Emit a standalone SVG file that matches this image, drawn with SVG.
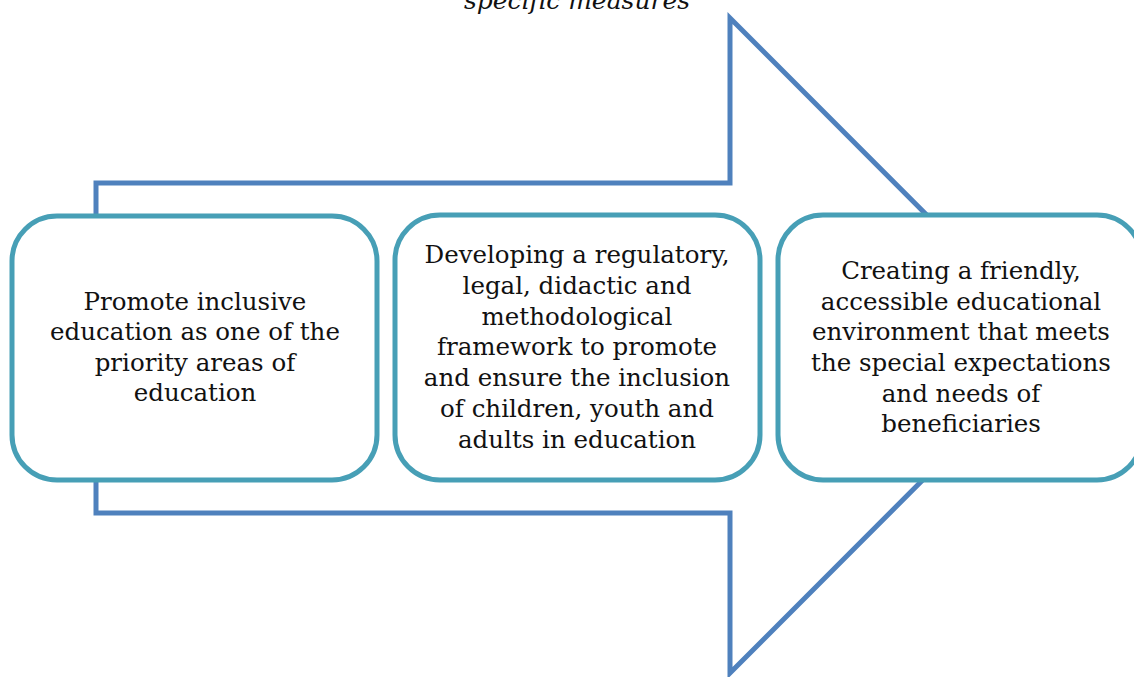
<svg xmlns="http://www.w3.org/2000/svg" width="1134" height="677" viewBox="0 0 1134 677">
<style>
.arrow{fill:none;stroke:#4F81BD;stroke-width:5;stroke-linejoin:miter}
.box{fill:#fff;stroke:#479FB6;stroke-width:5}
.t{font-family:"DejaVu Serif",serif;font-size:24.5px;fill:#111;text-anchor:middle}
.title{font-family:"DejaVu Serif",serif;font-style:italic;font-size:25px;fill:#111;text-anchor:middle}
</style>
<rect width="1134" height="677" fill="#fff"/>
<text class="title" x="577" y="9">specific measures</text>
<g id="connectors">
<polygon class="arrow" points="96,183 730,183 730,18 1057,345.5 730,673 730,513 96,513"/>
</g>
<g id="node1">
<rect class="box" x="12" y="216" width="365" height="264" rx="45"/>
<text class="t"><tspan x="195" y="310">Promote inclusive</tspan><tspan x="195" y="340">education as one of the</tspan><tspan x="195" y="371">priority areas of</tspan><tspan x="195" y="401">education</tspan></text>
</g>
<g id="node2">
<rect class="box" x="395" y="215" width="365" height="265" rx="45"/>
<text class="t"><tspan x="577" y="263">Developing a regulatory,</tspan><tspan x="577" y="294">legal, didactic and</tspan><tspan x="577" y="325">methodological</tspan><tspan x="577" y="355">framework to promote</tspan><tspan x="577" y="386">and ensure the inclusion</tspan><tspan x="577" y="417">of children, youth and</tspan><tspan x="577" y="448">adults in education</tspan></text>
</g>
<g id="node3">
<rect class="box" x="778" y="215" width="364" height="265" rx="45"/>
<text class="t"><tspan x="961" y="279">Creating a friendly,</tspan><tspan x="961" y="310">accessible educational</tspan><tspan x="961" y="340">environment that meets</tspan><tspan x="961" y="371">the special expectations</tspan><tspan x="961" y="402">and needs of</tspan><tspan x="961" y="432">beneficiaries</tspan></text>
</g>
</svg>
